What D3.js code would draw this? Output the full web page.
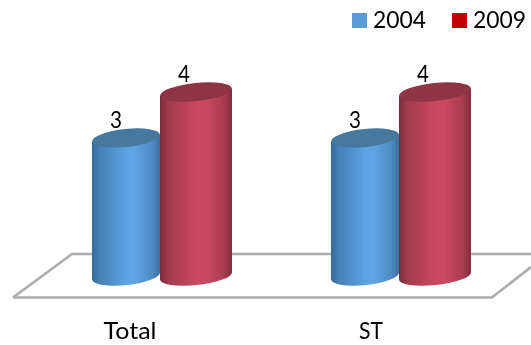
<!DOCTYPE html>
<html><head><meta charset="utf-8">
<script src="https://cdn.jsdelivr.net/npm/d3@7"></script>
<style>html,body{margin:0;padding:0;background:#fff}svg{display:block}text{font-family:Lato,"Open Sans",sans-serif;fill:#000}</style>
</head><body><svg id="c" width="531" height="345"></svg>
<script>
const categories = ["Total", "ST"];
const seriesNames = ["2004", "2009"];
const values2004 = [3, 3];
const values2009 = [4, 4];
const legendColors = ["#5b9bd5", "#c00000"];

const svg = d3.select("#c");
const defs = svg.append("defs");
defs.append("filter").attr("id","soft").append("feGaussianBlur").attr("stdDeviation",0.45);
const ramps = [
  {id:"g0", stops:[["0%","#356a99"],["12%","#4680b7"],["50%","#5ca3e2"],["62%","#5fa5e4"],["88%","#4f8cc4"],["100%","#3b6f9f"]], top:"#47799f", rx:34},
  {id:"g1", stops:[["0%","#7a2b3b"],["12%","#a23a4e"],["50%","#c9485f"],["62%","#cc4a61"],["88%","#ab3d50"],["100%","#802c3b"]], top:"#8e3444", rx:36}
];
ramps.forEach(r=>{
  const g=defs.append("linearGradient").attr("id",r.id);
  r.stops.forEach(s=>g.append("stop").attr("offset",s[0]).attr("stop-color",s[1]));
});

const y = d3.scaleLinear().domain([0,4]).range([276,92]);
const x0 = d3.scalePoint().domain(categories).range([161,400]);
const x1 = d3.scalePoint().domain(seriesNames).range([-35,35]);

// floor
const floorLine = d3.line();
svg.append("path")
  .attr("d", floorLine([[13,297.5],[72,254],[531,254]]))
  .attr("fill","none").attr("stroke","#adadad").attr("stroke-width",2.6);
svg.append("path")
  .attr("d", floorLine([[13,297.5],[492,297.5],[531,267]]))
  .attr("fill","none").attr("stroke","#adadad").attr("stroke-width",2.6);

const ry = 9, dy = 3.6;
const data = [values2004, values2009];
const plot = svg.append("g").attr("filter","url(#soft)");
seriesNames.forEach((s,si)=>{
  const r = ramps[si];
  categories.forEach((c,ci)=>{
    const cx = x0(c)+x1(s), top = y(data[si][ci]), bot = y(0);
    const lx = cx-r.rx, rx = cx+r.rx;
    plot.append("path")
      .attr("d",`M${lx},${top+dy}L${rx},${top-dy}L${rx},${bot-dy}A${r.rx},${ry} -6 0 1 ${lx},${bot+dy}Z`)
      .attr("fill",`url(#${r.id})`);
    plot.append("ellipse")
      .attr("rx",r.rx).attr("ry",ry)
      .attr("transform",`translate(${cx},${top}) rotate(-6)`)
      .attr("fill",r.top);
  });
});

// value labels
const labelOffset = [-10,-12];
seriesNames.forEach((s,si)=>{
  categories.forEach((c,ci)=>{
    svg.append("text").attr("x",x0(c)+x1(s)+labelOffset[si])
      .attr("y",y(data[si][ci])-10).attr("text-anchor","middle")
      .attr("font-size",23).attr("textLength",12).attr("lengthAdjust","spacingAndGlyphs")
      .text(data[si][ci]);
  });
});

// category labels
const catX = [130,371];
const catW = [53,24];
categories.forEach((c,i)=>{
  svg.append("text").attr("x",catX[i]).attr("y",339).attr("text-anchor","middle")
    .attr("font-size",23).attr("textLength",catW[i]).attr("lengthAdjust","spacingAndGlyphs").text(c);
});

// legend
const lx = d3.scalePoint().domain(seriesNames).range([352,452]);
seriesNames.forEach((s,i)=>{
  svg.append("rect").attr("x",lx(s)).attr("y",13).attr("width",15).attr("height",15).attr("fill",legendColors[i]);
  svg.append("text").attr("x",lx(s)+21).attr("y",28).attr("font-size",23)
    .attr("textLength",53).attr("lengthAdjust","spacingAndGlyphs").text(s);
});
</script></body></html>
